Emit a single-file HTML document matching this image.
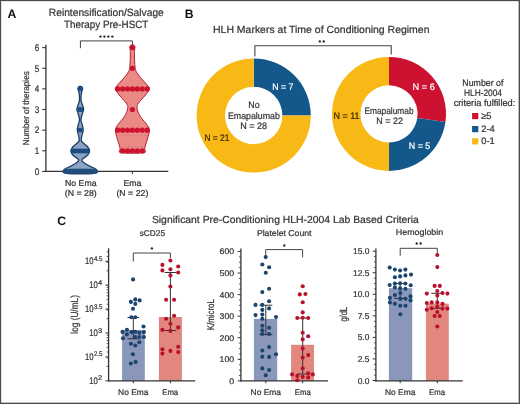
<!DOCTYPE html>
<html><head><meta charset="utf-8"><style>
html,body{margin:0;padding:0;background:#fff;}
#fig{position:relative;width:520px;height:404px;overflow:hidden;background:#fff;will-change:transform;}
#fig svg{position:absolute;left:0;top:0;}
#fig svg text{font-family:"Liberation Sans",sans-serif;text-rendering:geometricPrecision;}
#bd{position:absolute;left:0;top:0;width:520px;height:404px;box-sizing:border-box;border:1px solid #4a4a4a;box-shadow:inset -1px -1px 0 0 rgba(74,74,74,0.35), inset 1px 1px 0 0 rgba(74,74,74,0.15);}
</style></head><body><div id="fig">
<svg width="520" height="404" viewBox="0 0 520 404">
<text x="7.4" y="17.6" font-size="12.2" text-anchor="start" fill="#111" font-weight="bold" >A</text>
<text x="106.3" y="15.6" font-size="10.5" text-anchor="middle" fill="#333333" font-weight="normal" stroke="#333333" stroke-width="0.22" textLength="115" lengthAdjust="spacingAndGlyphs" >Reintensification/Salvage</text>
<text x="106.2" y="27.5" font-size="10.5" text-anchor="middle" fill="#333333" font-weight="normal" stroke="#333333" stroke-width="0.22" textLength="84.3" lengthAdjust="spacingAndGlyphs" >Therapy Pre-HSCT</text>
<line x1="45.9" y1="44.8" x2="45.9" y2="172.0" stroke="#333333" stroke-width="1.3"/>
<line x1="45.3" y1="171.4" x2="168.3" y2="171.4" stroke="#333333" stroke-width="1.3"/>
<line x1="42.2" y1="171.4" x2="45.9" y2="171.4" stroke="#333333" stroke-width="1.1"/>
<text x="39.3" y="174.65" font-size="9.6" text-anchor="end" fill="#333333" font-weight="normal" stroke="#333333" stroke-width="0.22" textLength="4.5" lengthAdjust="spacingAndGlyphs" >0</text>
<line x1="42.2" y1="150.77" x2="45.9" y2="150.77" stroke="#333333" stroke-width="1.1"/>
<text x="39.3" y="154.02" font-size="9.6" text-anchor="end" fill="#333333" font-weight="normal" stroke="#333333" stroke-width="0.22" textLength="4.5" lengthAdjust="spacingAndGlyphs" >1</text>
<line x1="42.2" y1="130.14000000000001" x2="45.9" y2="130.14000000000001" stroke="#333333" stroke-width="1.1"/>
<text x="39.3" y="133.39" font-size="9.6" text-anchor="end" fill="#333333" font-weight="normal" stroke="#333333" stroke-width="0.22" textLength="4.5" lengthAdjust="spacingAndGlyphs" >2</text>
<line x1="42.2" y1="109.51" x2="45.9" y2="109.51" stroke="#333333" stroke-width="1.1"/>
<text x="39.3" y="112.76" font-size="9.6" text-anchor="end" fill="#333333" font-weight="normal" stroke="#333333" stroke-width="0.22" textLength="4.5" lengthAdjust="spacingAndGlyphs" >3</text>
<line x1="42.2" y1="88.88000000000001" x2="45.9" y2="88.88000000000001" stroke="#333333" stroke-width="1.1"/>
<text x="39.3" y="92.13" font-size="9.6" text-anchor="end" fill="#333333" font-weight="normal" stroke="#333333" stroke-width="0.22" textLength="4.5" lengthAdjust="spacingAndGlyphs" >4</text>
<line x1="42.2" y1="68.25000000000001" x2="45.9" y2="68.25000000000001" stroke="#333333" stroke-width="1.1"/>
<text x="39.3" y="71.5" font-size="9.6" text-anchor="end" fill="#333333" font-weight="normal" stroke="#333333" stroke-width="0.22" textLength="4.5" lengthAdjust="spacingAndGlyphs" >5</text>
<line x1="42.2" y1="47.620000000000005" x2="45.9" y2="47.620000000000005" stroke="#333333" stroke-width="1.1"/>
<text x="39.3" y="50.87" font-size="9.6" text-anchor="end" fill="#333333" font-weight="normal" stroke="#333333" stroke-width="0.22" textLength="4.5" lengthAdjust="spacingAndGlyphs" >6</text>
<text transform="translate(29.3,108.2) rotate(-90)" font-size="8.8" text-anchor="middle" fill="#333333" stroke="#333333" stroke-width="0.22" textLength="74" lengthAdjust="spacingAndGlyphs">Number of therapies</text>
<path d="M80.26,86.30 C80.51,86.38 81.35,86.38 81.75,86.80 C82.15,87.22 82.63,88.10 82.65,88.80 C82.67,89.50 82.10,89.97 81.85,91.00 C81.60,92.03 81.28,93.45 81.15,95.00 C81.02,96.55 80.83,98.63 81.05,100.30 C81.27,101.97 82.02,103.50 82.45,105.00 C82.88,106.50 83.68,107.80 83.65,109.30 C83.62,110.80 82.70,112.27 82.25,114.00 C81.80,115.73 80.95,117.87 80.95,119.70 C80.95,121.53 81.87,123.28 82.25,125.00 C82.63,126.72 83.28,128.33 83.25,130.00 C83.22,131.67 82.38,133.25 82.05,135.00 C81.72,136.75 80.97,139.08 81.25,140.50 C81.53,141.92 82.67,142.42 83.75,143.50 C84.83,144.58 86.78,145.73 87.75,147.00 C88.72,148.27 89.60,149.77 89.60,151.10 C89.60,152.43 88.72,153.85 87.75,155.00 C86.78,156.15 84.75,157.10 83.75,158.00 C82.75,158.90 81.67,159.57 81.75,160.40 C81.83,161.23 82.95,162.05 84.25,163.00 C85.55,163.95 87.80,165.18 89.55,166.10 C91.30,167.02 93.53,167.85 94.75,168.50 C95.97,169.15 96.45,169.33 96.85,170.00 C97.25,170.67 97.92,171.92 97.15,172.50 C96.38,173.08 95.06,173.28 92.25,173.50 C89.44,173.72 82.26,173.75 80.26,173.80 L80.24,173.80 C78.24,173.75 71.06,173.72 68.25,173.50 C65.44,173.28 64.12,173.08 63.35,172.50 C62.58,171.92 63.25,170.67 63.65,170.00 C64.05,169.33 64.53,169.15 65.75,168.50 C66.97,167.85 69.20,167.02 70.95,166.10 C72.70,165.18 74.95,163.95 76.25,163.00 C77.55,162.05 78.67,161.23 78.75,160.40 C78.83,159.57 77.75,158.90 76.75,158.00 C75.75,157.10 73.72,156.15 72.75,155.00 C71.78,153.85 70.90,152.43 70.90,151.10 C70.90,149.77 71.78,148.27 72.75,147.00 C73.72,145.73 75.67,144.58 76.75,143.50 C77.83,142.42 78.97,141.92 79.25,140.50 C79.53,139.08 78.78,136.75 78.45,135.00 C78.12,133.25 77.28,131.67 77.25,130.00 C77.22,128.33 77.87,126.72 78.25,125.00 C78.63,123.28 79.55,121.53 79.55,119.70 C79.55,117.87 78.70,115.73 78.25,114.00 C77.80,112.27 76.88,110.80 76.85,109.30 C76.82,107.80 77.62,106.50 78.05,105.00 C78.48,103.50 79.23,101.97 79.45,100.30 C79.67,98.63 79.48,96.55 79.35,95.00 C79.22,93.45 78.90,92.03 78.65,91.00 C78.40,89.97 77.83,89.50 77.85,88.80 C77.87,88.10 78.35,87.22 78.75,86.80 C79.15,86.38 79.99,86.38 80.24,86.30 Z" fill="#8EA2C6" stroke="#173F68" stroke-width="1.3" stroke-linejoin="round"/>
<path d="M132.41,44.90 C132.71,44.97 133.77,44.88 134.20,45.30 C134.63,45.72 134.93,46.62 135.00,47.40 C135.07,48.18 134.68,48.57 134.60,50.00 C134.52,51.43 134.48,53.83 134.50,56.00 C134.52,58.17 134.58,60.95 134.70,63.00 C134.82,65.05 135.02,67.05 135.20,68.30 C135.38,69.55 135.50,69.72 135.80,70.50 C136.10,71.28 136.27,71.87 137.00,73.00 C137.73,74.13 138.87,75.72 140.20,77.30 C141.53,78.88 143.70,81.05 145.00,82.50 C146.30,83.95 147.27,84.90 148.00,86.00 C148.73,87.10 149.80,87.60 149.40,89.10 C149.00,90.60 147.07,93.10 145.60,95.00 C144.13,96.90 142.00,98.75 140.60,100.50 C139.20,102.25 137.73,103.92 137.20,105.50 C136.67,107.08 137.05,108.50 137.40,110.00 C137.75,111.50 138.53,113.03 139.30,114.50 C140.07,115.97 140.78,117.17 142.00,118.80 C143.22,120.43 145.37,122.40 146.60,124.30 C147.83,126.20 149.27,127.75 149.40,130.20 C149.53,132.65 148.17,136.03 147.40,139.00 C146.63,141.97 145.23,145.73 144.80,148.00 C144.37,150.27 146.87,151.73 144.80,152.60 C142.74,153.47 134.47,153.10 132.41,153.20 L132.39,153.20 C130.33,153.10 122.06,153.47 120.00,152.60 C117.94,151.73 120.43,150.27 120.00,148.00 C119.57,145.73 118.17,141.97 117.40,139.00 C116.63,136.03 115.27,132.65 115.40,130.20 C115.53,127.75 116.97,126.20 118.20,124.30 C119.43,122.40 121.58,120.43 122.80,118.80 C124.02,117.17 124.73,115.97 125.50,114.50 C126.27,113.03 127.05,111.50 127.40,110.00 C127.75,108.50 128.13,107.08 127.60,105.50 C127.07,103.92 125.60,102.25 124.20,100.50 C122.80,98.75 120.67,96.90 119.20,95.00 C117.73,93.10 115.80,90.60 115.40,89.10 C115.00,87.60 116.07,87.10 116.80,86.00 C117.53,84.90 118.50,83.95 119.80,82.50 C121.10,81.05 123.27,78.88 124.60,77.30 C125.93,75.72 127.07,74.13 127.80,73.00 C128.53,71.87 128.70,71.28 129.00,70.50 C129.30,69.72 129.42,69.55 129.60,68.30 C129.78,67.05 129.98,65.05 130.10,63.00 C130.22,60.95 130.28,58.17 130.30,56.00 C130.32,53.83 130.28,51.43 130.20,50.00 C130.12,48.57 129.73,48.18 129.80,47.40 C129.87,46.62 130.17,45.72 130.60,45.30 C131.03,44.88 132.09,44.97 132.39,44.90 Z" fill="#EB8A85" stroke="#B51E36" stroke-width="1.0" stroke-linejoin="round"/>
<line x1="116.9" y1="135.8" x2="147.9" y2="135.8" stroke="#C86A6A" stroke-width="0.6" stroke-dasharray="1.5,1.5"/>
<line x1="119.4" y1="146.8" x2="145.4" y2="146.8" stroke="#C86A6A" stroke-width="0.6" stroke-dasharray="1.5,1.5"/>
<circle cx="132.4" cy="47.620000000000005" r="2.6" fill="#CC102E"/>
<circle cx="132.4" cy="68.25000000000001" r="2.6" fill="#CC102E"/>
<circle cx="117.7" cy="88.88000000000001" r="2.6" fill="#CC102E"/>
<circle cx="122.6" cy="88.88000000000001" r="2.6" fill="#CC102E"/>
<circle cx="127.5" cy="88.88000000000001" r="2.6" fill="#CC102E"/>
<circle cx="132.4" cy="88.88000000000001" r="2.6" fill="#CC102E"/>
<circle cx="137.3" cy="88.88000000000001" r="2.6" fill="#CC102E"/>
<circle cx="142.2" cy="88.88000000000001" r="2.6" fill="#CC102E"/>
<circle cx="147.1" cy="88.88000000000001" r="2.6" fill="#CC102E"/>
<circle cx="132.4" cy="109.51" r="2.6" fill="#CC102E"/>
<circle cx="117.7" cy="130.14000000000001" r="2.6" fill="#CC102E"/>
<circle cx="122.6" cy="130.14000000000001" r="2.6" fill="#CC102E"/>
<circle cx="127.5" cy="130.14000000000001" r="2.6" fill="#CC102E"/>
<circle cx="132.4" cy="130.14000000000001" r="2.6" fill="#CC102E"/>
<circle cx="137.3" cy="130.14000000000001" r="2.6" fill="#CC102E"/>
<circle cx="142.2" cy="130.14000000000001" r="2.6" fill="#CC102E"/>
<circle cx="147.1" cy="130.14000000000001" r="2.6" fill="#CC102E"/>
<circle cx="122.6" cy="150.77" r="2.6" fill="#CC102E"/>
<circle cx="127.5" cy="150.77" r="2.6" fill="#CC102E"/>
<circle cx="132.4" cy="150.77" r="2.6" fill="#CC102E"/>
<circle cx="137.3" cy="150.77" r="2.6" fill="#CC102E"/>
<circle cx="142.2" cy="150.77" r="2.6" fill="#CC102E"/>
<circle cx="80.25" cy="88.8" r="2.4" fill="#1E4D7E"/>
<circle cx="79.75" cy="109.4" r="2.5" fill="#1E4D7E"/>
<circle cx="80.75" cy="109.4" r="2.5" fill="#1E4D7E"/>
<circle cx="79.85" cy="130.1" r="2.3" fill="#1E4D7E"/>
<circle cx="80.65" cy="130.1" r="2.3" fill="#1E4D7E"/>
<circle cx="73.38" cy="151.1" r="2.5" fill="#1E4D7E"/>
<circle cx="76.12" cy="151.1" r="2.5" fill="#1E4D7E"/>
<circle cx="78.88" cy="151.1" r="2.5" fill="#1E4D7E"/>
<circle cx="81.62" cy="151.1" r="2.5" fill="#1E4D7E"/>
<circle cx="84.38" cy="151.1" r="2.5" fill="#1E4D7E"/>
<circle cx="87.12" cy="151.1" r="2.5" fill="#1E4D7E"/>
<rect x="63.6" y="168.7" width="33.8" height="5.0" rx="2.5" fill="#1E4D7E"/>
<line x1="80.25" y1="171.4" x2="80.25" y2="174.0" stroke="#333333" stroke-width="1"/>
<line x1="132.4" y1="171.4" x2="132.4" y2="174.0" stroke="#333333" stroke-width="1"/>
<text x="80.8" y="185.6" font-size="8.6" text-anchor="middle" fill="#333333" font-weight="normal" stroke="#333333" stroke-width="0.22" textLength="31.5" lengthAdjust="spacingAndGlyphs" >No Ema</text>
<text x="80.8" y="196.0" font-size="8.6" text-anchor="middle" fill="#333333" font-weight="normal" stroke="#333333" stroke-width="0.22" textLength="32" lengthAdjust="spacingAndGlyphs" >(N = 28)</text>
<text x="132.4" y="185.6" font-size="8.6" text-anchor="middle" fill="#333333" font-weight="normal" stroke="#333333" stroke-width="0.22" textLength="18" lengthAdjust="spacingAndGlyphs" >Ema</text>
<text x="132.4" y="196.0" font-size="8.6" text-anchor="middle" fill="#333333" font-weight="normal" stroke="#333333" stroke-width="0.22" textLength="32" lengthAdjust="spacingAndGlyphs" >(N = 22)</text>
<path d="M80.4,48.2 V40.9 H132.4 V45" fill="none" stroke="#444" stroke-width="1"/>
<circle cx="100.48" cy="36.6" r="1.2" fill="#2e2e2e"/>
<circle cx="104.43" cy="36.6" r="1.2" fill="#2e2e2e"/>
<circle cx="108.38" cy="36.6" r="1.2" fill="#2e2e2e"/>
<circle cx="112.33" cy="36.6" r="1.2" fill="#2e2e2e"/>
<text x="184.7" y="17.6" font-size="12.2" text-anchor="start" fill="#111" font-weight="bold" >B</text>
<text x="213.0" y="32.7" font-size="10.3" text-anchor="start" fill="#333333" font-weight="normal" stroke="#333333" stroke-width="0.22" textLength="216.5" lengthAdjust="spacingAndGlyphs" >HLH Markers at Time of Conditioning Regimen</text>
<path d="M254.9,56.4 V45.8 H391.2 V54.6" fill="none" stroke="#444" stroke-width="1.1"/>
<circle cx="319.82" cy="41.4" r="1.2" fill="#2e2e2e"/>
<circle cx="323.77" cy="41.4" r="1.2" fill="#2e2e2e"/>
<path d="M253.70,58.40 A57.1,57.1 0 0 1 310.80,115.50 L282.40,115.50 A28.7,28.7 0 0 0 253.70,86.80 Z" fill="#14578A"/>
<path d="M310.80,115.50 A57.1,57.1 0 1 1 253.70,58.40 L253.70,86.80 A28.7,28.7 0 1 0 282.40,115.50 Z" fill="#F8B816"/>
<path d="M389.00,56.90 A57.0,57.0 0 0 1 445.42,122.01 L417.31,117.97 A28.6,28.6 0 0 0 389.00,85.30 Z" fill="#CC1230"/>
<path d="M445.42,122.01 A57.0,57.0 0 0 1 389.00,170.90 L389.00,142.50 A28.6,28.6 0 0 0 417.31,117.97 Z" fill="#14578A"/>
<path d="M389.00,170.90 A57.0,57.0 0 0 1 389.00,56.90 L389.00,85.30 A28.6,28.6 0 0 0 389.00,142.50 Z" fill="#F8B816"/>
<text x="282.8" y="89.6" font-size="9.4" text-anchor="middle" fill="#fff" font-weight="normal" stroke="#fff" stroke-width="0.22" textLength="21.2" lengthAdjust="spacingAndGlyphs" >N = 7</text>
<text x="216.9" y="141.2" font-size="9.4" text-anchor="middle" fill="#3a2a00" font-weight="normal" stroke="#3a2a00" stroke-width="0.22" textLength="25" lengthAdjust="spacingAndGlyphs" >N = 21</text>
<text x="253.9" y="108.1" font-size="9.4" text-anchor="middle" fill="#333333" font-weight="normal" stroke="#333333" stroke-width="0.22" textLength="11.3" lengthAdjust="spacingAndGlyphs" >No</text>
<text x="253.9" y="118.7" font-size="9.4" text-anchor="middle" fill="#333333" font-weight="normal" stroke="#333333" stroke-width="0.22" textLength="51.8" lengthAdjust="spacingAndGlyphs" >Emapalumab</text>
<text x="253.6" y="128.7" font-size="9.4" text-anchor="middle" fill="#333333" font-weight="normal" stroke="#333333" stroke-width="0.22" textLength="26.9" lengthAdjust="spacingAndGlyphs" >N = 28</text>
<text x="346.6" y="118.6" font-size="9.4" text-anchor="middle" fill="#3a2a00" font-weight="normal" stroke="#3a2a00" stroke-width="0.22" textLength="26" lengthAdjust="spacingAndGlyphs" >N = 11</text>
<text x="389.0" y="113.6" font-size="9.4" text-anchor="middle" fill="#333333" font-weight="normal" stroke="#333333" stroke-width="0.22" textLength="49.1" lengthAdjust="spacingAndGlyphs" >Emapalumab</text>
<text x="389.6" y="124.2" font-size="9.4" text-anchor="middle" fill="#333333" font-weight="normal" stroke="#333333" stroke-width="0.22" textLength="26.5" lengthAdjust="spacingAndGlyphs" >N = 22</text>
<text x="423.7" y="90.0" font-size="9.4" text-anchor="middle" fill="#fff" font-weight="normal" stroke="#fff" stroke-width="0.22" textLength="22.2" lengthAdjust="spacingAndGlyphs" >N = 6</text>
<text x="419.5" y="148.8" font-size="9.4" text-anchor="middle" fill="#fff" font-weight="normal" stroke="#fff" stroke-width="0.22" textLength="21.5" lengthAdjust="spacingAndGlyphs" >N = 5</text>
<text x="482.9" y="85.8" font-size="9.4" text-anchor="middle" fill="#333333" font-weight="normal" stroke="#333333" stroke-width="0.22" textLength="41.1" lengthAdjust="spacingAndGlyphs" >Number of</text>
<text x="483.0" y="95.8" font-size="9.4" text-anchor="middle" fill="#333333" font-weight="normal" stroke="#333333" stroke-width="0.22" textLength="38" lengthAdjust="spacingAndGlyphs" >HLH-2004</text>
<text x="484.5" y="106.2" font-size="9.4" text-anchor="middle" fill="#333333" font-weight="normal" stroke="#333333" stroke-width="0.22" textLength="61.7" lengthAdjust="spacingAndGlyphs" >criteria fulfilled:</text>
<rect x="472.1" y="113.0" width="6.2" height="6.2" fill="#CC1230"/>
<text x="481.2" y="119.1" font-size="9.4" text-anchor="start" fill="#333333" font-weight="normal" stroke="#333333" stroke-width="0.22" >&#8805;5</text>
<rect x="472.1" y="126.0" width="6.2" height="6.2" fill="#14578A"/>
<text x="481.2" y="132.1" font-size="9.4" text-anchor="start" fill="#333333" font-weight="normal" stroke="#333333" stroke-width="0.22" >2-4</text>
<rect x="472.1" y="138.2" width="6.2" height="6.2" fill="#F8B816"/>
<text x="481.2" y="144.3" font-size="9.4" text-anchor="start" fill="#333333" font-weight="normal" stroke="#333333" stroke-width="0.22" >0-1</text>
<text x="57.3" y="224.5" font-size="12.2" text-anchor="start" fill="#111" font-weight="bold" >C</text>
<text x="151.9" y="223.0" font-size="10.2" text-anchor="start" fill="#333333" font-weight="normal" stroke="#333333" stroke-width="0.22" textLength="267" lengthAdjust="spacingAndGlyphs" >Significant Pre-Conditioning HLH-2004 Lab Based Criteria</text>
<text x="152.4" y="235.7" font-size="8.4" text-anchor="middle" fill="#333333" font-weight="normal" stroke="#333333" stroke-width="0.22" textLength="25.4" lengthAdjust="spacingAndGlyphs" >sCD25</text>
<text x="284.2" y="235.5" font-size="8.5" text-anchor="middle" fill="#333333" font-weight="normal" stroke="#333333" stroke-width="0.22" textLength="54.6" lengthAdjust="spacingAndGlyphs" >Platelet Count</text>
<text x="419.5" y="235.2" font-size="8.5" text-anchor="middle" fill="#333333" font-weight="normal" stroke="#333333" stroke-width="0.22" textLength="47.4" lengthAdjust="spacingAndGlyphs" >Hemoglobin</text>
<rect x="122.1" y="330.0" width="22.700000000000017" height="50.80000000000001" fill="#8A96BA"/>
<rect x="158.9" y="317.0" width="23.0" height="63.80000000000001" fill="#E2877D"/>
<line x1="108.6" y1="248.3" x2="108.6" y2="381.40000000000003" stroke="#333333" stroke-width="1.3"/>
<line x1="108.0" y1="380.8" x2="195.2" y2="380.8" stroke="#333333" stroke-width="1.3"/>
<line x1="106.6" y1="366.4107662072617" x2="108.6" y2="366.4107662072617" stroke="#333333" stroke-width="0.8"/>
<line x1="106.6" y1="357.99360402440016" x2="108.6" y2="357.99360402440016" stroke="#333333" stroke-width="0.8"/>
<line x1="106.6" y1="352.0215324145234" x2="108.6" y2="352.0215324145234" stroke="#333333" stroke-width="0.8"/>
<line x1="106.6" y1="347.3892337927383" x2="108.6" y2="347.3892337927383" stroke="#333333" stroke-width="0.8"/>
<line x1="106.6" y1="343.60437023166185" x2="108.6" y2="343.60437023166185" stroke="#333333" stroke-width="0.8"/>
<line x1="106.6" y1="340.40431368731856" x2="108.6" y2="340.40431368731856" stroke="#333333" stroke-width="0.8"/>
<line x1="106.6" y1="337.6322986217851" x2="108.6" y2="337.6322986217851" stroke="#333333" stroke-width="0.8"/>
<line x1="106.6" y1="335.1872080488003" x2="108.6" y2="335.1872080488003" stroke="#333333" stroke-width="0.8"/>
<line x1="106.6" y1="318.6107662072617" x2="108.6" y2="318.6107662072617" stroke="#333333" stroke-width="0.8"/>
<line x1="106.6" y1="310.19360402440014" x2="108.6" y2="310.19360402440014" stroke="#333333" stroke-width="0.8"/>
<line x1="106.6" y1="304.2215324145234" x2="108.6" y2="304.2215324145234" stroke="#333333" stroke-width="0.8"/>
<line x1="106.6" y1="299.58923379273836" x2="108.6" y2="299.58923379273836" stroke="#333333" stroke-width="0.8"/>
<line x1="106.6" y1="295.80437023166184" x2="108.6" y2="295.80437023166184" stroke="#333333" stroke-width="0.8"/>
<line x1="106.6" y1="292.60431368731855" x2="108.6" y2="292.60431368731855" stroke="#333333" stroke-width="0.8"/>
<line x1="106.6" y1="289.83229862178507" x2="108.6" y2="289.83229862178507" stroke="#333333" stroke-width="0.8"/>
<line x1="106.6" y1="287.3872080488003" x2="108.6" y2="287.3872080488003" stroke="#333333" stroke-width="0.8"/>
<line x1="106.6" y1="270.81076620726174" x2="108.6" y2="270.81076620726174" stroke="#333333" stroke-width="0.8"/>
<line x1="106.6" y1="262.39360402440013" x2="108.6" y2="262.39360402440013" stroke="#333333" stroke-width="0.8"/>
<line x1="106.6" y1="256.4215324145234" x2="108.6" y2="256.4215324145234" stroke="#333333" stroke-width="0.8"/>
<line x1="106.6" y1="251.78923379273832" x2="108.6" y2="251.78923379273832" stroke="#333333" stroke-width="0.8"/>
<line x1="105.39999999999999" y1="380.8" x2="108.6" y2="380.8" stroke="#333333" stroke-width="1"/>
<line x1="105.39999999999999" y1="356.90000000000003" x2="108.6" y2="356.90000000000003" stroke="#333333" stroke-width="1"/>
<line x1="105.39999999999999" y1="333.0" x2="108.6" y2="333.0" stroke="#333333" stroke-width="1"/>
<line x1="105.39999999999999" y1="309.1" x2="108.6" y2="309.1" stroke="#333333" stroke-width="1"/>
<line x1="105.39999999999999" y1="285.20000000000005" x2="108.6" y2="285.20000000000005" stroke="#333333" stroke-width="1"/>
<line x1="105.39999999999999" y1="261.3" x2="108.6" y2="261.3" stroke="#333333" stroke-width="1"/>
<text x="102.3" y="380.30" font-size="6.8" text-anchor="end" fill="#333333" stroke="#333333" stroke-width="0.22" textLength="4.2" lengthAdjust="spacingAndGlyphs">2</text>
<text x="97.80" y="383.75" font-size="9.6" text-anchor="end" fill="#333333" stroke="#333333" stroke-width="0.22" textLength="8.6" lengthAdjust="spacingAndGlyphs">10</text>
<text x="102.3" y="356.40" font-size="6.8" text-anchor="end" fill="#333333" stroke="#333333" stroke-width="0.22" textLength="8.4" lengthAdjust="spacingAndGlyphs">2.5</text>
<text x="93.60" y="359.85" font-size="9.6" text-anchor="end" fill="#333333" stroke="#333333" stroke-width="0.22" textLength="8.6" lengthAdjust="spacingAndGlyphs">10</text>
<text x="102.3" y="332.50" font-size="6.8" text-anchor="end" fill="#333333" stroke="#333333" stroke-width="0.22" textLength="4.2" lengthAdjust="spacingAndGlyphs">3</text>
<text x="97.80" y="335.95" font-size="9.6" text-anchor="end" fill="#333333" stroke="#333333" stroke-width="0.22" textLength="8.6" lengthAdjust="spacingAndGlyphs">10</text>
<text x="102.3" y="308.60" font-size="6.8" text-anchor="end" fill="#333333" stroke="#333333" stroke-width="0.22" textLength="8.4" lengthAdjust="spacingAndGlyphs">3.5</text>
<text x="93.60" y="312.05" font-size="9.6" text-anchor="end" fill="#333333" stroke="#333333" stroke-width="0.22" textLength="8.6" lengthAdjust="spacingAndGlyphs">10</text>
<text x="102.3" y="284.70" font-size="6.8" text-anchor="end" fill="#333333" stroke="#333333" stroke-width="0.22" textLength="4.2" lengthAdjust="spacingAndGlyphs">4</text>
<text x="97.80" y="288.15" font-size="9.6" text-anchor="end" fill="#333333" stroke="#333333" stroke-width="0.22" textLength="8.6" lengthAdjust="spacingAndGlyphs">10</text>
<text x="102.3" y="260.80" font-size="6.8" text-anchor="end" fill="#333333" stroke="#333333" stroke-width="0.22" textLength="8.4" lengthAdjust="spacingAndGlyphs">4.5</text>
<text x="93.60" y="264.25" font-size="9.6" text-anchor="end" fill="#333333" stroke="#333333" stroke-width="0.22" textLength="8.6" lengthAdjust="spacingAndGlyphs">10</text>
<text transform="translate(77.7,314.4) rotate(-90)" font-size="10.3" text-anchor="middle" fill="#333333" stroke="#333333" stroke-width="0.22" textLength="38.6" lengthAdjust="spacingAndGlyphs">log (U/mL)</text>
<line x1="133.3" y1="380.8" x2="133.3" y2="383.2" stroke="#333333" stroke-width="1"/>
<line x1="170.4" y1="380.8" x2="170.4" y2="383.2" stroke="#333333" stroke-width="1"/>
<text x="133.3" y="394.6" font-size="8.3" text-anchor="middle" fill="#333333" font-weight="normal" stroke="#333333" stroke-width="0.22" textLength="30.4" lengthAdjust="spacingAndGlyphs" >No Ema</text>
<text x="170.2" y="394.6" font-size="8.3" text-anchor="middle" fill="#333333" font-weight="normal" stroke="#333333" stroke-width="0.22" textLength="16" lengthAdjust="spacingAndGlyphs" >Ema</text>
<line x1="133.3" y1="317.5" x2="133.3" y2="338.8" stroke="#333333" stroke-width="1"/>
<line x1="127.50000000000001" y1="317.5" x2="139.10000000000002" y2="317.5" stroke="#333333" stroke-width="1"/>
<line x1="127.50000000000001" y1="338.8" x2="139.10000000000002" y2="338.8" stroke="#333333" stroke-width="1"/>
<line x1="170.4" y1="272.5" x2="170.4" y2="330.5" stroke="#333333" stroke-width="1"/>
<line x1="164.5" y1="272.5" x2="176.3" y2="272.5" stroke="#333333" stroke-width="1"/>
<line x1="164.5" y1="330.5" x2="176.3" y2="330.5" stroke="#333333" stroke-width="1"/>
<circle cx="133.1" cy="279.4" r="2.05" fill="#1B446E"/>
<circle cx="130.9" cy="301.9" r="2.05" fill="#1B446E"/>
<circle cx="135.3" cy="299.4" r="2.05" fill="#1B446E"/>
<circle cx="139.6" cy="300.4" r="2.05" fill="#1B446E"/>
<circle cx="135.3" cy="303.9" r="2.05" fill="#1B446E"/>
<circle cx="133" cy="308.8" r="2.05" fill="#1B446E"/>
<circle cx="131.4" cy="317.2" r="2.05" fill="#1B446E"/>
<circle cx="135.3" cy="317.2" r="2.05" fill="#1B446E"/>
<circle cx="143.5" cy="326.5" r="2.05" fill="#1B446E"/>
<circle cx="126.9" cy="329.8" r="2.05" fill="#1B446E"/>
<circle cx="122.5" cy="331.9" r="2.05" fill="#1B446E"/>
<circle cx="131.4" cy="332.1" r="2.05" fill="#1B446E"/>
<circle cx="135.3" cy="331.7" r="2.05" fill="#1B446E"/>
<circle cx="139.3" cy="332.7" r="2.05" fill="#1B446E"/>
<circle cx="143.9" cy="332.1" r="2.05" fill="#1B446E"/>
<circle cx="126.9" cy="334.4" r="2.05" fill="#1B446E"/>
<circle cx="123" cy="338.3" r="2.05" fill="#1B446E"/>
<circle cx="139.3" cy="337" r="2.05" fill="#1B446E"/>
<circle cx="143.9" cy="337" r="2.05" fill="#1B446E"/>
<circle cx="130.9" cy="343.8" r="2.05" fill="#1B446E"/>
<circle cx="135.3" cy="345.5" r="2.05" fill="#1B446E"/>
<circle cx="139.3" cy="342.3" r="2.05" fill="#1B446E"/>
<circle cx="132.9" cy="354.2" r="2.05" fill="#1B446E"/>
<circle cx="130.8" cy="363.5" r="2.05" fill="#1B446E"/>
<circle cx="135.6" cy="361.9" r="2.05" fill="#1B446E"/>
<circle cx="135.0" cy="337.0" r="2.05" fill="#1B446E"/>
<circle cx="170.4" cy="260.5" r="2.05" fill="#B8112E"/>
<circle cx="162.4" cy="264.9" r="2.05" fill="#B8112E"/>
<circle cx="178.2" cy="266.5" r="2.05" fill="#B8112E"/>
<circle cx="162.4" cy="270.4" r="2.05" fill="#B8112E"/>
<circle cx="170.4" cy="269.2" r="2.05" fill="#B8112E"/>
<circle cx="178.2" cy="272.5" r="2.05" fill="#B8112E"/>
<circle cx="170.4" cy="275.4" r="2.05" fill="#B8112E"/>
<circle cx="170.4" cy="286.5" r="2.05" fill="#B8112E"/>
<circle cx="166.1" cy="299.8" r="2.05" fill="#B8112E"/>
<circle cx="174.1" cy="299.8" r="2.05" fill="#B8112E"/>
<circle cx="174.1" cy="315.8" r="2.05" fill="#B8112E"/>
<circle cx="166.1" cy="318.8" r="2.05" fill="#B8112E"/>
<circle cx="170.4" cy="323.7" r="2.05" fill="#B8112E"/>
<circle cx="178.2" cy="327.4" r="2.05" fill="#B8112E"/>
<circle cx="162.4" cy="329.9" r="2.05" fill="#B8112E"/>
<circle cx="170.4" cy="330.9" r="2.05" fill="#B8112E"/>
<circle cx="162.4" cy="349.2" r="2.05" fill="#B8112E"/>
<circle cx="162.4" cy="353.6" r="2.05" fill="#B8112E"/>
<circle cx="170.4" cy="350.9" r="2.05" fill="#B8112E"/>
<circle cx="178.2" cy="346.8" r="2.05" fill="#B8112E"/>
<circle cx="178.2" cy="352.1" r="2.05" fill="#B8112E"/>
<path d="M133.3,261.6 V253.0 H170.4 V258" fill="none" stroke="#444" stroke-width="1"/>
<circle cx="151.90" cy="248.4" r="1.2" fill="#2e2e2e"/>
<rect x="253.9" y="318.9" width="23.299999999999983" height="61.900000000000034" fill="#8A96BA"/>
<rect x="291.1" y="344.8" width="22.899999999999977" height="36.0" fill="#E2877D"/>
<line x1="240.9" y1="248.5" x2="240.9" y2="381.40000000000003" stroke="#333333" stroke-width="1.3"/>
<line x1="240.3" y1="380.8" x2="328.0" y2="380.8" stroke="#333333" stroke-width="1.3"/>
<line x1="238.9" y1="375.5075" x2="240.9" y2="375.5075" stroke="#333333" stroke-width="0.8"/>
<line x1="238.9" y1="370.11499999999995" x2="240.9" y2="370.11499999999995" stroke="#333333" stroke-width="0.8"/>
<line x1="238.9" y1="364.72249999999997" x2="240.9" y2="364.72249999999997" stroke="#333333" stroke-width="0.8"/>
<line x1="238.9" y1="353.9375" x2="240.9" y2="353.9375" stroke="#333333" stroke-width="0.8"/>
<line x1="238.9" y1="348.54499999999996" x2="240.9" y2="348.54499999999996" stroke="#333333" stroke-width="0.8"/>
<line x1="238.9" y1="343.1525" x2="240.9" y2="343.1525" stroke="#333333" stroke-width="0.8"/>
<line x1="238.9" y1="332.36749999999995" x2="240.9" y2="332.36749999999995" stroke="#333333" stroke-width="0.8"/>
<line x1="238.9" y1="326.97499999999997" x2="240.9" y2="326.97499999999997" stroke="#333333" stroke-width="0.8"/>
<line x1="238.9" y1="321.5825" x2="240.9" y2="321.5825" stroke="#333333" stroke-width="0.8"/>
<line x1="238.9" y1="310.79749999999996" x2="240.9" y2="310.79749999999996" stroke="#333333" stroke-width="0.8"/>
<line x1="238.9" y1="305.405" x2="240.9" y2="305.405" stroke="#333333" stroke-width="0.8"/>
<line x1="238.9" y1="300.0125" x2="240.9" y2="300.0125" stroke="#333333" stroke-width="0.8"/>
<line x1="238.9" y1="289.22749999999996" x2="240.9" y2="289.22749999999996" stroke="#333333" stroke-width="0.8"/>
<line x1="238.9" y1="283.835" x2="240.9" y2="283.835" stroke="#333333" stroke-width="0.8"/>
<line x1="238.9" y1="278.4425" x2="240.9" y2="278.4425" stroke="#333333" stroke-width="0.8"/>
<line x1="238.9" y1="267.65749999999997" x2="240.9" y2="267.65749999999997" stroke="#333333" stroke-width="0.8"/>
<line x1="238.9" y1="262.265" x2="240.9" y2="262.265" stroke="#333333" stroke-width="0.8"/>
<line x1="238.9" y1="256.87249999999995" x2="240.9" y2="256.87249999999995" stroke="#333333" stroke-width="0.8"/>
<line x1="237.70000000000002" y1="380.9" x2="240.9" y2="380.9" stroke="#333333" stroke-width="1"/>
<line x1="237.70000000000002" y1="359.33" x2="240.9" y2="359.33" stroke="#333333" stroke-width="1"/>
<line x1="237.70000000000002" y1="337.76" x2="240.9" y2="337.76" stroke="#333333" stroke-width="1"/>
<line x1="237.70000000000002" y1="316.18999999999994" x2="240.9" y2="316.18999999999994" stroke="#333333" stroke-width="1"/>
<line x1="237.70000000000002" y1="294.62" x2="240.9" y2="294.62" stroke="#333333" stroke-width="1"/>
<line x1="237.70000000000002" y1="273.04999999999995" x2="240.9" y2="273.04999999999995" stroke="#333333" stroke-width="1"/>
<line x1="237.70000000000002" y1="251.47999999999996" x2="240.9" y2="251.47999999999996" stroke="#333333" stroke-width="1"/>
<text x="234.2" y="383.8" font-size="8.2" text-anchor="end" fill="#333333" font-weight="normal" stroke="#333333" stroke-width="0.22" textLength="4.87" lengthAdjust="spacingAndGlyphs" >0</text>
<text x="234.2" y="362.23" font-size="8.2" text-anchor="end" fill="#333333" font-weight="normal" stroke="#333333" stroke-width="0.22" textLength="14.61" lengthAdjust="spacingAndGlyphs" >100</text>
<text x="234.2" y="340.66" font-size="8.2" text-anchor="end" fill="#333333" font-weight="normal" stroke="#333333" stroke-width="0.22" textLength="14.61" lengthAdjust="spacingAndGlyphs" >200</text>
<text x="234.2" y="319.09" font-size="8.2" text-anchor="end" fill="#333333" font-weight="normal" stroke="#333333" stroke-width="0.22" textLength="14.61" lengthAdjust="spacingAndGlyphs" >300</text>
<text x="234.2" y="297.52" font-size="8.2" text-anchor="end" fill="#333333" font-weight="normal" stroke="#333333" stroke-width="0.22" textLength="14.61" lengthAdjust="spacingAndGlyphs" >400</text>
<text x="234.2" y="275.95" font-size="8.2" text-anchor="end" fill="#333333" font-weight="normal" stroke="#333333" stroke-width="0.22" textLength="14.61" lengthAdjust="spacingAndGlyphs" >500</text>
<text x="234.2" y="254.38" font-size="8.2" text-anchor="end" fill="#333333" font-weight="normal" stroke="#333333" stroke-width="0.22" textLength="14.61" lengthAdjust="spacingAndGlyphs" >600</text>
<text transform="translate(214.4,314.7) rotate(-90)" font-size="9.8" text-anchor="middle" fill="#333333" stroke="#333333" stroke-width="0.22" textLength="31.2" lengthAdjust="spacingAndGlyphs">K/microL</text>
<line x1="265.8" y1="380.8" x2="265.8" y2="383.2" stroke="#333333" stroke-width="1"/>
<line x1="302.7" y1="380.8" x2="302.7" y2="383.2" stroke="#333333" stroke-width="1"/>
<text x="265.8" y="394.6" font-size="8.3" text-anchor="middle" fill="#333333" font-weight="normal" stroke="#333333" stroke-width="0.22" textLength="30.4" lengthAdjust="spacingAndGlyphs" >No Ema</text>
<text x="302.8" y="394.6" font-size="8.3" text-anchor="middle" fill="#333333" font-weight="normal" stroke="#333333" stroke-width="0.22" textLength="16" lengthAdjust="spacingAndGlyphs" >Ema</text>
<line x1="265.8" y1="305.2" x2="265.8" y2="334.6" stroke="#333333" stroke-width="1"/>
<line x1="259.3" y1="305.2" x2="272.3" y2="305.2" stroke="#333333" stroke-width="1"/>
<line x1="259.3" y1="334.6" x2="272.3" y2="334.6" stroke="#333333" stroke-width="1"/>
<line x1="302.7" y1="318.0" x2="302.7" y2="374.0" stroke="#333333" stroke-width="1"/>
<line x1="297.2" y1="318.0" x2="308.2" y2="318.0" stroke="#333333" stroke-width="1"/>
<line x1="297.2" y1="374.0" x2="308.2" y2="374.0" stroke="#333333" stroke-width="1"/>
<circle cx="265.7" cy="257.1" r="2.05" fill="#1B446E"/>
<circle cx="262.3" cy="264.5" r="2.05" fill="#1B446E"/>
<circle cx="269.1" cy="267.3" r="2.05" fill="#1B446E"/>
<circle cx="265.8" cy="272.7" r="2.05" fill="#1B446E"/>
<circle cx="269.1" cy="288.8" r="2.05" fill="#1B446E"/>
<circle cx="262.3" cy="292.1" r="2.05" fill="#1B446E"/>
<circle cx="269.1" cy="301.2" r="2.05" fill="#1B446E"/>
<circle cx="255.5" cy="304.9" r="2.05" fill="#1B446E"/>
<circle cx="262.3" cy="304.9" r="2.05" fill="#1B446E"/>
<circle cx="269.1" cy="308.4" r="2.05" fill="#1B446E"/>
<circle cx="262.3" cy="309.9" r="2.05" fill="#1B446E"/>
<circle cx="255.5" cy="315.1" r="2.05" fill="#1B446E"/>
<circle cx="262.3" cy="314.6" r="2.05" fill="#1B446E"/>
<circle cx="262.3" cy="318.8" r="2.05" fill="#1B446E"/>
<circle cx="276" cy="317" r="2.05" fill="#1B446E"/>
<circle cx="262.3" cy="325.7" r="2.05" fill="#1B446E"/>
<circle cx="269.1" cy="327.8" r="2.05" fill="#1B446E"/>
<circle cx="262.3" cy="330.3" r="2.05" fill="#1B446E"/>
<circle cx="262.3" cy="334" r="2.05" fill="#1B446E"/>
<circle cx="269.1" cy="334" r="2.05" fill="#1B446E"/>
<circle cx="269.1" cy="347.1" r="2.05" fill="#1B446E"/>
<circle cx="262.3" cy="350.5" r="2.05" fill="#1B446E"/>
<circle cx="276" cy="354.2" r="2.05" fill="#1B446E"/>
<circle cx="262.3" cy="356.7" r="2.05" fill="#1B446E"/>
<circle cx="269.1" cy="356.9" r="2.05" fill="#1B446E"/>
<circle cx="262.3" cy="368.4" r="2.05" fill="#1B446E"/>
<circle cx="269.1" cy="370" r="2.05" fill="#1B446E"/>
<circle cx="265.8" cy="375.2" r="2.05" fill="#1B446E"/>
<circle cx="302.7" cy="286.2" r="2.05" fill="#B8112E"/>
<circle cx="299.8" cy="294.4" r="2.05" fill="#B8112E"/>
<circle cx="305.4" cy="294" r="2.05" fill="#B8112E"/>
<circle cx="302.7" cy="302.3" r="2.05" fill="#B8112E"/>
<circle cx="302.7" cy="312.4" r="2.05" fill="#B8112E"/>
<circle cx="297.3" cy="318" r="2.05" fill="#B8112E"/>
<circle cx="302.7" cy="317.7" r="2.05" fill="#B8112E"/>
<circle cx="308.2" cy="318" r="2.05" fill="#B8112E"/>
<circle cx="302.7" cy="332.8" r="2.05" fill="#B8112E"/>
<circle cx="308.2" cy="336.2" r="2.05" fill="#B8112E"/>
<circle cx="302.7" cy="339.4" r="2.05" fill="#B8112E"/>
<circle cx="302.7" cy="348.5" r="2.05" fill="#B8112E"/>
<circle cx="308.2" cy="355.1" r="2.05" fill="#B8112E"/>
<circle cx="302.7" cy="357.6" r="2.05" fill="#B8112E"/>
<circle cx="302.7" cy="368.2" r="2.05" fill="#B8112E"/>
<circle cx="292.1" cy="374.4" r="2.05" fill="#B8112E"/>
<circle cx="297.3" cy="375.9" r="2.05" fill="#B8112E"/>
<circle cx="302.7" cy="376.9" r="2.05" fill="#B8112E"/>
<circle cx="308.2" cy="373.2" r="2.05" fill="#B8112E"/>
<circle cx="308.2" cy="377.4" r="2.05" fill="#B8112E"/>
<circle cx="312.8" cy="374.4" r="2.05" fill="#B8112E"/>
<circle cx="297.3" cy="380.2" r="2.05" fill="#B8112E"/>
<path d="M265.7,256 V249.6 H302.6 V257.3" fill="none" stroke="#444" stroke-width="1"/>
<circle cx="284.30" cy="245.5" r="1.2" fill="#2e2e2e"/>
<rect x="388.9" y="288.2" width="23.30000000000001" height="92.60000000000002" fill="#8A96BA"/>
<rect x="425.9" y="303.6" width="22.900000000000034" height="77.19999999999999" fill="#E2877D"/>
<line x1="375.9" y1="248.5" x2="375.9" y2="381.40000000000003" stroke="#333333" stroke-width="1.3"/>
<line x1="375.29999999999995" y1="380.8" x2="462.7" y2="380.8" stroke="#333333" stroke-width="1.3"/>
<line x1="373.9" y1="375.1125" x2="375.9" y2="375.1125" stroke="#333333" stroke-width="0.8"/>
<line x1="373.9" y1="369.725" x2="375.9" y2="369.725" stroke="#333333" stroke-width="0.8"/>
<line x1="373.9" y1="364.3375" x2="375.9" y2="364.3375" stroke="#333333" stroke-width="0.8"/>
<line x1="373.9" y1="353.5625" x2="375.9" y2="353.5625" stroke="#333333" stroke-width="0.8"/>
<line x1="373.9" y1="348.175" x2="375.9" y2="348.175" stroke="#333333" stroke-width="0.8"/>
<line x1="373.9" y1="342.7875" x2="375.9" y2="342.7875" stroke="#333333" stroke-width="0.8"/>
<line x1="373.9" y1="332.0125" x2="375.9" y2="332.0125" stroke="#333333" stroke-width="0.8"/>
<line x1="373.9" y1="326.625" x2="375.9" y2="326.625" stroke="#333333" stroke-width="0.8"/>
<line x1="373.9" y1="321.2375" x2="375.9" y2="321.2375" stroke="#333333" stroke-width="0.8"/>
<line x1="373.9" y1="310.4625" x2="375.9" y2="310.4625" stroke="#333333" stroke-width="0.8"/>
<line x1="373.9" y1="305.075" x2="375.9" y2="305.075" stroke="#333333" stroke-width="0.8"/>
<line x1="373.9" y1="299.6875" x2="375.9" y2="299.6875" stroke="#333333" stroke-width="0.8"/>
<line x1="373.9" y1="288.9125" x2="375.9" y2="288.9125" stroke="#333333" stroke-width="0.8"/>
<line x1="373.9" y1="283.525" x2="375.9" y2="283.525" stroke="#333333" stroke-width="0.8"/>
<line x1="373.9" y1="278.1375" x2="375.9" y2="278.1375" stroke="#333333" stroke-width="0.8"/>
<line x1="373.9" y1="267.3625" x2="375.9" y2="267.3625" stroke="#333333" stroke-width="0.8"/>
<line x1="373.9" y1="261.975" x2="375.9" y2="261.975" stroke="#333333" stroke-width="0.8"/>
<line x1="373.9" y1="256.5875" x2="375.9" y2="256.5875" stroke="#333333" stroke-width="0.8"/>
<line x1="372.7" y1="380.5" x2="375.9" y2="380.5" stroke="#333333" stroke-width="1"/>
<line x1="372.7" y1="358.95" x2="375.9" y2="358.95" stroke="#333333" stroke-width="1"/>
<line x1="372.7" y1="337.4" x2="375.9" y2="337.4" stroke="#333333" stroke-width="1"/>
<line x1="372.7" y1="315.85" x2="375.9" y2="315.85" stroke="#333333" stroke-width="1"/>
<line x1="372.7" y1="294.3" x2="375.9" y2="294.3" stroke="#333333" stroke-width="1"/>
<line x1="372.7" y1="272.75" x2="375.9" y2="272.75" stroke="#333333" stroke-width="1"/>
<line x1="372.7" y1="251.20000000000002" x2="375.9" y2="251.20000000000002" stroke="#333333" stroke-width="1"/>
<text x="369.3" y="383.5" font-size="8.4" text-anchor="end" fill="#333333" font-weight="normal" stroke="#333333" stroke-width="0.22" >0.0</text>
<text x="369.3" y="361.95" font-size="8.4" text-anchor="end" fill="#333333" font-weight="normal" stroke="#333333" stroke-width="0.22" >2.5</text>
<text x="369.3" y="340.4" font-size="8.4" text-anchor="end" fill="#333333" font-weight="normal" stroke="#333333" stroke-width="0.22" >5.0</text>
<text x="369.3" y="318.85" font-size="8.4" text-anchor="end" fill="#333333" font-weight="normal" stroke="#333333" stroke-width="0.22" >7.5</text>
<text x="369.3" y="297.3" font-size="8.4" text-anchor="end" fill="#333333" font-weight="normal" stroke="#333333" stroke-width="0.22" >10.0</text>
<text x="369.3" y="275.75" font-size="8.4" text-anchor="end" fill="#333333" font-weight="normal" stroke="#333333" stroke-width="0.22" >12.5</text>
<text x="369.3" y="254.2" font-size="8.4" text-anchor="end" fill="#333333" font-weight="normal" stroke="#333333" stroke-width="0.22" >15.0</text>
<text transform="translate(347.0,314.3) rotate(-90)" font-size="10.2" text-anchor="middle" fill="#333333" stroke="#333333" stroke-width="0.22" textLength="14.6" lengthAdjust="spacingAndGlyphs">g/dL</text>
<line x1="400.2" y1="380.8" x2="400.2" y2="383.2" stroke="#333333" stroke-width="1"/>
<line x1="437.3" y1="380.8" x2="437.3" y2="383.2" stroke="#333333" stroke-width="1"/>
<text x="400.2" y="394.6" font-size="8.3" text-anchor="middle" fill="#333333" font-weight="normal" stroke="#333333" stroke-width="0.22" textLength="30.4" lengthAdjust="spacingAndGlyphs" >No Ema</text>
<text x="437.1" y="394.6" font-size="8.3" text-anchor="middle" fill="#333333" font-weight="normal" stroke="#333333" stroke-width="0.22" textLength="16" lengthAdjust="spacingAndGlyphs" >Ema</text>
<line x1="400.1" y1="283.5" x2="400.1" y2="298.3" stroke="#333333" stroke-width="1"/>
<line x1="394.1" y1="283.5" x2="406.1" y2="283.5" stroke="#333333" stroke-width="1"/>
<line x1="394.1" y1="298.3" x2="406.1" y2="298.3" stroke="#333333" stroke-width="1"/>
<line x1="437.3" y1="293.3" x2="437.3" y2="308.3" stroke="#333333" stroke-width="1"/>
<line x1="431.3" y1="293.3" x2="443.3" y2="293.3" stroke="#333333" stroke-width="1"/>
<line x1="431.3" y1="308.3" x2="443.3" y2="308.3" stroke="#333333" stroke-width="1"/>
<circle cx="389.7" cy="267.6" r="2.05" fill="#1B446E"/>
<circle cx="394.9" cy="269.6" r="2.05" fill="#1B446E"/>
<circle cx="400.1" cy="270.5" r="2.05" fill="#1B446E"/>
<circle cx="405.4" cy="269.6" r="2.05" fill="#1B446E"/>
<circle cx="394.9" cy="277.3" r="2.05" fill="#1B446E"/>
<circle cx="400.1" cy="276.4" r="2.05" fill="#1B446E"/>
<circle cx="405.4" cy="275.4" r="2.05" fill="#1B446E"/>
<circle cx="411" cy="274.6" r="2.05" fill="#1B446E"/>
<circle cx="389.7" cy="285" r="2.05" fill="#1B446E"/>
<circle cx="394.9" cy="283.5" r="2.05" fill="#1B446E"/>
<circle cx="400.1" cy="283.2" r="2.05" fill="#1B446E"/>
<circle cx="405.4" cy="283.5" r="2.05" fill="#1B446E"/>
<circle cx="410.7" cy="285.3" r="2.05" fill="#1B446E"/>
<circle cx="394.9" cy="287.4" r="2.05" fill="#1B446E"/>
<circle cx="400.1" cy="288.2" r="2.05" fill="#1B446E"/>
<circle cx="405.4" cy="288.7" r="2.05" fill="#1B446E"/>
<circle cx="400.3" cy="293" r="2.05" fill="#1B446E"/>
<circle cx="394.9" cy="295" r="2.05" fill="#1B446E"/>
<circle cx="389.9" cy="297.9" r="2.05" fill="#1B446E"/>
<circle cx="400.3" cy="298.9" r="2.05" fill="#1B446E"/>
<circle cx="405.5" cy="298.7" r="2.05" fill="#1B446E"/>
<circle cx="410.5" cy="296.4" r="2.05" fill="#1B446E"/>
<circle cx="410.5" cy="300.4" r="2.05" fill="#1B446E"/>
<circle cx="389.9" cy="302.4" r="2.05" fill="#1B446E"/>
<circle cx="394.9" cy="303.7" r="2.05" fill="#1B446E"/>
<circle cx="400.3" cy="305.8" r="2.05" fill="#1B446E"/>
<circle cx="405.5" cy="305.8" r="2.05" fill="#1B446E"/>
<circle cx="400.3" cy="314.3" r="2.05" fill="#1B446E"/>
<circle cx="437.3" cy="255" r="2.05" fill="#B8112E"/>
<circle cx="437.3" cy="267.1" r="2.05" fill="#B8112E"/>
<circle cx="434.6" cy="285.9" r="2.05" fill="#B8112E"/>
<circle cx="439.8" cy="285.9" r="2.05" fill="#B8112E"/>
<circle cx="426.8" cy="293.6" r="2.05" fill="#B8112E"/>
<circle cx="437.3" cy="291" r="2.05" fill="#B8112E"/>
<circle cx="437.3" cy="295.6" r="2.05" fill="#B8112E"/>
<circle cx="442.5" cy="293.1" r="2.05" fill="#B8112E"/>
<circle cx="447.4" cy="293.6" r="2.05" fill="#B8112E"/>
<circle cx="426.8" cy="303" r="2.05" fill="#B8112E"/>
<circle cx="431.7" cy="302.4" r="2.05" fill="#B8112E"/>
<circle cx="437.3" cy="302.4" r="2.05" fill="#B8112E"/>
<circle cx="442.5" cy="303.9" r="2.05" fill="#B8112E"/>
<circle cx="426.8" cy="309.8" r="2.05" fill="#B8112E"/>
<circle cx="431.7" cy="308.3" r="2.05" fill="#B8112E"/>
<circle cx="437.3" cy="306.7" r="2.05" fill="#B8112E"/>
<circle cx="442.5" cy="308.6" r="2.05" fill="#B8112E"/>
<circle cx="447.4" cy="308.6" r="2.05" fill="#B8112E"/>
<circle cx="437.3" cy="312" r="2.05" fill="#B8112E"/>
<circle cx="434.6" cy="316" r="2.05" fill="#B8112E"/>
<circle cx="439.8" cy="316" r="2.05" fill="#B8112E"/>
<circle cx="437.3" cy="326.5" r="2.05" fill="#B8112E"/>
<path d="M400.2,255.8 V248.3 H437.3 V253" fill="none" stroke="#444" stroke-width="1"/>
<circle cx="416.72" cy="243.5" r="1.2" fill="#2e2e2e"/>
<circle cx="420.67" cy="243.5" r="1.2" fill="#2e2e2e"/>
</svg>
<div id="bd"></div>
</div></body></html>
